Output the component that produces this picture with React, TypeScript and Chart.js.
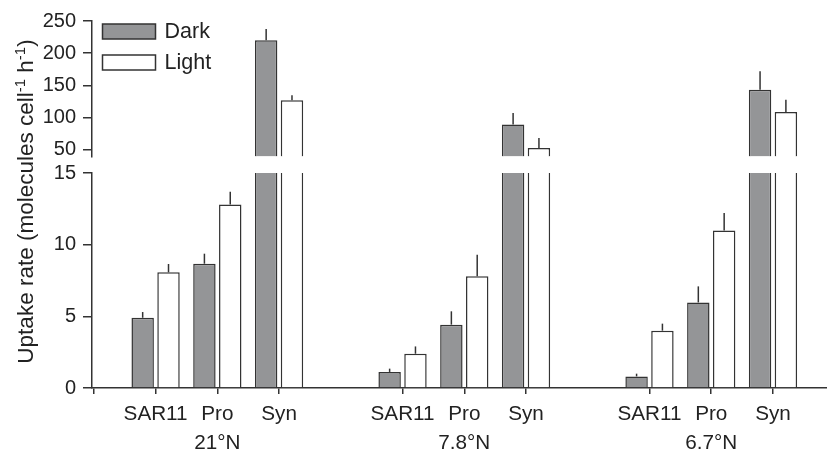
import React, { useEffect, useRef } from 'react';
import { Chart, registerables } from 'chart.js';

Chart.register(...registerables);

// ---- data ----
const groups = ['21°N', '7.8°N', '6.7°N'];
const taxa = ['SAR11', 'Pro', 'Syn'];
const seriesNames = ['Dark', 'Light'];
// order: for each group -> SAR11, Pro, Syn
const darkValues = [4.9, 8.67, 220, 1.12, 4.42, 89.3, 0.81, 5.97, 143.5];
const darkErrors = [0.4, 0.7, 17.5, 0.23, 0.93, 18, 0.19, 1.12, 28.5];
const lightValues = [8.07, 12.81, 127, 2.39, 7.79, 53.2, 4.0, 10.98, 109];
const lightErrors = [0.58, 0.89, 7.7, 0.51, 1.51, 15.5, 0.49, 1.23, 19];
const lowTicks = [0, 5, 10, 15];
const highTicks = [50, 100, 150, 200, 250];
const lowRange = [0, 15];
const highRange = [40, 250];
const titleParts = [
  { text: 'Uptake rate (molecules cell', sup: false },
  { text: '-1', sup: true },
  { text: ' h', sup: false },
  { text: '-1', sup: true },
  { text: ')', sup: false },
];

const FONT = "'Liberation Sans', Arial, Helvetica, sans-serif";
const INK = '#333333';
const TEXT = '#222222';
const DARK_FILL = '#949597';
const LIGHT_FILL = '#ffffff';

const slotOf = (i: number) => Math.floor(i / taxa.length) * (taxa.length + 1) + (i % taxa.length) + 1;
const tickPositions = [0, ...darkValues.map((_, i) => slotOf(i))];
const labelFor = (v: number): string | string[] => {
  const i = darkValues.findIndex((_, k) => slotOf(k) === v);
  if (i < 0) return '';
  const t = i % taxa.length;
  const g = Math.floor(i / taxa.length);
  return t === 1 ? [taxa[t], groups[g]] : taxa[t];
};

function makeDataset(name: string, values: number[], errors: number[], fill: string, part: 'low' | 'high') {
  const cut = lowRange[1];
  return {
    label: name,
    part,
    values,
    errors,
    stack: name,
    yAxisID: part === 'low' ? 'yLow' : 'yHigh',
    base: part === 'low' ? lowRange[0] : highRange[0],
    data: values.map((v, i) => ({
      x: slotOf(i),
      y: part === 'low' ? Math.min(v, cut) : v > cut ? v : null,
    })),
    backgroundColor: fill,
    borderColor: INK,
    borderWidth: (ctx: any) => {
      const v = values[ctx.dataIndex];
      if (part === 'low' && v > cut) return { left: 1.5, right: 1.5, top: 0, bottom: 0 };
      return 1.5;
    },
    borderSkipped: 'start',
    categoryPercentage: 0.837,
    barPercentage: 0.868,
  };
}

const errorBarPlugin = {
  id: 'errorBars',
  afterDatasetsDraw(chart: any) {
    const ctx = chart.ctx;
    ctx.save();
    ctx.strokeStyle = INK;
    ctx.lineWidth = 1.5;
    chart.data.datasets.forEach((ds: any, di: number) => {
      const meta = chart.getDatasetMeta(di);
      const yScale = chart.scales[ds.yAxisID];
      meta.data.forEach((el: any, i: number) => {
        const v = ds.values[i];
        const e = ds.errors[i];
        const here = ds.part === 'low' ? v <= lowRange[1] : v > lowRange[1];
        if (!here) return;
        const top = yScale.getPixelForValue(v + e);
        ctx.beginPath();
        ctx.moveTo(el.x, el.y);
        ctx.lineTo(el.x, top);
        ctx.stroke();
      });
    });
    ctx.restore();
  },
};

const legendPlugin = {
  id: 'innerLegend',
  afterDraw(chart: any) {
    const ctx = chart.ctx;
    const area = chart.chartArea;
    const items = chart.data.datasets.filter((d: any) => d.part === 'low');
    ctx.save();
    items.forEach((ds: any, k: number) => {
      const x = area.left + 10.5;
      const y = area.top + 3 + k * 31;
      ctx.fillStyle = ds.backgroundColor;
      ctx.fillRect(x, y, 53, 15);
      ctx.strokeStyle = INK;
      ctx.lineWidth = 1.5;
      ctx.strokeRect(x, y, 53, 15);
      ctx.fillStyle = TEXT;
      ctx.font = `21.5px ${FONT}`;
      ctx.textBaseline = 'middle';
      ctx.textAlign = 'left';
      ctx.fillText(ds.label, x + 62, y + 8);
    });
    ctx.restore();
  },
};

const titlePlugin = {
  id: 'yTitle',
  afterDraw(chart: any) {
    const ctx = chart.ctx;
    const area = chart.chartArea;
    const main = `22.5px ${FONT}`;
    const small = `15px ${FONT}`;
    ctx.save();
    let total = 0;
    titleParts.forEach((p) => {
      ctx.font = p.sup ? small : main;
      total += ctx.measureText(p.text).width;
    });
    const cy = (area.top + area.bottom) / 2 - 3;
    ctx.translate(32.5, cy);
    ctx.rotate(-Math.PI / 2);
    ctx.fillStyle = TEXT;
    ctx.textBaseline = 'alphabetic';
    ctx.textAlign = 'left';
    let x = -total / 2;
    titleParts.forEach((p) => {
      ctx.font = p.sup ? small : main;
      ctx.fillText(p.text, x, p.sup ? -8 : 0);
      x += ctx.measureText(p.text).width;
    });
    ctx.restore();
  },
};

export default function App() {
  const ref = useRef<HTMLCanvasElement>(null);
  useEffect(() => {
    const canvas = ref.current!;
    const yCommon = (ticks: number[]) => ({
      type: 'linear',
      position: 'left',
      stack: 'v',
      stacked: false,
      afterBuildTicks: (s: any) => {
        s.ticks = ticks.map((v) => ({ value: v }));
      },
      afterFit: (s: any) => {
        s.width = 52;
      },
      ticks: {
        font: { family: FONT, size: 20 },
        color: TEXT,
        padding: 7,
        autoSkip: false,
      },
      grid: {
        display: true,
        drawOnChartArea: false,
        drawTicks: true,
        tickLength: 9,
        color: INK,
        lineWidth: 1.5,
      },
      border: { display: true, color: INK, width: 1.5 },
    });
    const chart = new Chart(canvas, {
      type: 'bar',
      data: {
        datasets: [
          makeDataset(seriesNames[0], darkValues, darkErrors, DARK_FILL, 'low'),
          makeDataset(seriesNames[1], lightValues, lightErrors, LIGHT_FILL, 'low'),
          makeDataset(seriesNames[0], darkValues, darkErrors, DARK_FILL, 'high'),
          makeDataset(seriesNames[1], lightValues, lightErrors, LIGHT_FILL, 'high'),
        ] as any,
      },
      options: {
        animation: false,
        responsive: false,
        devicePixelRatio: 1,
        layout: { padding: { left: 40, top: 21, right: 0, bottom: 0 } },
        plugins: { legend: { display: false }, tooltip: { enabled: false }, title: { display: false } },
        scales: {
          x: {
            type: 'linear',
            min: -0.03,
            max: 11.875,
            offset: false,
            afterBuildTicks: (s: any) => {
              s.ticks = tickPositions.map((v) => ({ value: v }));
            },
            afterFit: (s: any) => {
              s.height = 63;
            },
            ticks: {
              autoSkip: false,
              maxRotation: 0,
              padding: 6.3,
              font: { family: FONT, size: 20.7, lineHeight: 1.39 },
              color: TEXT,
              callback: (v: any) => labelFor(Number(v)),
            },
            grid: {
              display: true,
              offset: false,
              drawOnChartArea: false,
              drawTicks: true,
              tickLength: 6,
              color: INK,
              lineWidth: 1.5,
            },
            border: { display: true, color: INK, width: 1.5 },
          },
          yLow: { ...yCommon(lowTicks), min: lowRange[0], max: lowRange[1], stackWeight: 215 },
          yGap: {
            type: 'linear',
            position: 'left',
            stack: 'v',
            stackWeight: 16.6,
            display: true,
            afterFit: (s: any) => {
              s.width = 52;
            },
            ticks: { display: false },
            grid: { display: false },
            border: { display: false },
          },
          yHigh: { ...yCommon(highTicks), min: highRange[0], max: highRange[1], stackWeight: 135.4 },
        } as any,
      },
      plugins: [errorBarPlugin, legendPlugin, titlePlugin],
    } as any);
    return () => chart.destroy();
  }, []);
  return (
    <div style={{ position: 'fixed', left: 0, top: 0, width: 827, height: 451, background: '#fff' }}>
      <canvas ref={ref} width={827} height={451} style={{ display: 'block', width: 827, height: 451 }} />
    </div>
  );
}
